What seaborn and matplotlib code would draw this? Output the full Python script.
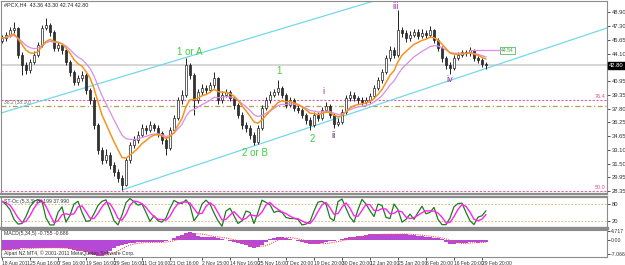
import numpy as np
import pandas as pd
import matplotlib
matplotlib.use("Agg")
import matplotlib.pyplot as plt
from matplotlib import font_manager
import seaborn as sns

# ---------------- data ----------------
title_text = "#PCX,H4  43.36 43.30 42.74 42.80"
first_open = 45.60
closes = [45.92, 46.26, 46.84, 47.07, 43.97, 42.82, 42.24, 43.16, 43.97, 45.11,
          47.07, 47.41, 46.61, 44.77, 45.11, 44.54, 43.16, 42.01, 40.87, 41.33,
          41.67, 39.95, 38.80, 35.93, 33.06, 31.91, 32.49, 31.34, 30.53, 29.85,
          29.04, 31.91, 33.63, 34.21, 34.78, 35.59, 35.36, 35.93, 35.59, 35.01,
          34.21, 33.29, 35.36, 36.73, 38.80, 39.37, 42.82, 41.67, 38.80, 39.72,
          40.18, 39.95, 40.52, 41.33, 38.80, 39.37, 39.72, 39.03, 38.23, 37.08,
          35.93, 35.59, 34.78, 33.98, 35.59, 37.88, 38.80, 39.37, 39.72, 40.18,
          39.37, 38.23, 38.80, 37.88, 37.65, 37.08, 36.50, 35.93, 37.08, 36.73,
          37.65, 38.11, 37.08, 36.05, 36.27, 37.42, 39.03, 39.37, 39.03, 38.80,
          38.57, 38.80, 39.26, 40.18, 41.10, 42.01, 43.62, 44.54, 43.97, 46.84,
          46.49, 45.92, 46.26, 46.61, 46.15, 46.49, 46.26, 46.84, 45.69, 44.77,
          43.62, 42.82, 42.47, 43.62, 43.97, 44.31, 44.20, 44.54, 43.62, 43.39,
          42.93, 42.80]
highs = [46.30, 46.60, 47.20, 47.75, 47.20, 44.30, 43.20, 43.50, 44.40, 45.50,
         47.40, 48.21, 47.60, 46.80, 45.50, 45.40, 44.70, 43.40, 42.30, 41.70,
         42.10, 41.90, 40.20, 39.10, 36.20, 33.40, 33.20, 32.80, 31.70, 30.90,
         30.20, 32.30, 34.00, 34.70, 35.20, 36.10, 35.90, 36.40, 36.20, 35.90,
         35.30, 34.50, 35.70, 37.10, 39.10, 39.90, 43.62, 43.10, 41.90, 40.10,
         40.60, 40.50, 40.90, 42.01, 41.50, 39.80, 40.10, 40.00, 39.30, 38.50,
         37.40, 36.30, 35.90, 35.10, 35.90, 38.20, 39.20, 39.80, 40.10, 41.10,
         40.40, 39.60, 39.20, 39.00, 38.20, 37.90, 37.30, 36.80, 37.40, 37.40,
         38.00, 38.57, 38.30, 37.30, 36.70, 37.80, 39.40, 39.80, 39.70, 39.30,
         39.10, 39.20, 39.60, 40.50, 41.50, 42.40, 44.00, 45.00, 44.90, 49.13,
         47.20, 46.80, 46.70, 47.00, 46.90, 46.90, 46.80, 47.30, 47.00, 45.90,
         45.00, 43.90, 43.20, 44.00, 44.30, 44.60, 44.60, 44.88, 44.70, 43.80,
         43.60, 43.20]
lows = [45.30, 45.60, 46.00, 46.50, 43.60, 41.70, 41.80, 41.90, 42.90, 43.70,
        44.90, 46.80, 46.20, 44.40, 44.40, 44.10, 42.80, 41.60, 40.50, 40.50,
        41.00, 39.50, 38.40, 35.50, 32.60, 31.50, 31.60, 30.90, 30.10, 29.40,
        28.47, 28.90, 31.60, 33.30, 33.90, 34.50, 34.90, 35.10, 35.20, 34.60,
        33.80, 32.49, 33.10, 35.10, 36.50, 38.40, 39.10, 41.20, 37.08, 38.50,
        39.40, 39.50, 39.70, 40.20, 38.40, 38.50, 39.10, 38.70, 37.80, 36.70,
        35.50, 35.10, 34.30, 33.63, 33.80, 35.40, 37.60, 38.50, 39.10, 39.40,
        39.00, 37.90, 38.00, 37.50, 37.30, 36.70, 36.10, 35.36, 35.70, 36.40,
        36.50, 37.40, 36.70, 35.59, 35.80, 36.00, 37.20, 38.70, 38.70, 38.40,
        38.20, 38.30, 38.50, 39.00, 39.90, 40.80, 41.80, 43.30, 43.60, 43.70,
        46.00, 45.50, 45.60, 46.00, 45.80, 45.90, 45.90, 46.00, 45.30, 44.40,
        43.20, 42.40, 41.79, 42.20, 43.40, 43.70, 43.80, 43.90, 43.30, 43.00,
        42.60, 42.40]
stoch_k = [90, 78, 60, 25, 8, 10, 35, 70, 90, 95,
           90, 30, 5, 5, 50, 70, 15, 40, 80, 90,
           50, 18, 20, 45, 75, 90, 95, 60, 20, 5,
           40, 85, 100, 88, 76, 80, 50, 18, 38, 20,
           15, 30, 65, 93, 85, 82, 95, 75, 20, 40,
           80, 94, 80, 48, 20, 0, 55, 65, 38, 10,
           20, 55, 50, 10, 50, 94, 86, 78, 50, 55,
           50, 32, 28, 28, 25, 5, 8, 17, 55, 87,
           90, 80, 30, 20, 89, 98, 65, 33, 15, 60,
           97, 80, 56, 35, 80, 75, 32, 28, 80, 60,
           15, 25, 44, 25, 50, 72, 45, 50, 68, 25,
           6, 6, 30, 70, 82, 83, 50, 20, 6, 33,
           38, 56]
macd_main = [-5.0, -4.9, -4.8, -4.6, -4.4, -4.2, -4.0, -4.0, -4.0, -3.9,
             -3.8, -3.8, -3.9, -4.0, -4.0, -4.1, -4.2, -4.5, -4.9, -5.3,
             -5.7, -6.2, -6.9, -7.6, -8.2, -8.0, -7.0, -5.5, -4.0, -3.0,
             -2.3, -1.8, -1.5, -1.3, -1.2, -1.2, -1.2, -1.2, -1.2, -1.1,
             -1.0, -0.6, 0.0, 1.0, 1.8, 2.5, 3.3, 4.0, 3.5, 2.2,
             1.7, 1.7, 1.6, 1.5, 1.0, 0.6, 0.2, -0.3, -0.8, -1.5,
             -2.1, -2.7, -3.3, -3.8, -3.3, -2.5, -1.2, 0.5, 1.2, 1.7,
             1.5, 1.1, 0.6, 0.1, -0.4, -0.9, -1.4, -1.9, -2.2, -2.0,
             -1.6, -1.2, -0.7, -0.3, 0.0, 0.4, 0.8, 1.3, 1.7, 2.0,
             2.2, 2.5, 2.8, 3.0, 3.0, 2.8, 2.8, 2.9, 3.0, 3.1,
             3.0, 2.8, 2.5, 2.4, 2.2, 2.0, 1.7, 1.3, 1.1, 0.9,
             0.3, -1.0, -2.2, -2.0, -1.7, -1.5, -1.3, -1.2, -1.2, -1.3,
             -1.2, -0.8]
date_ticks = [0, 7, 14, 21, 28, 35, 42, 50, 57, 64, 71, 78, 85, 92, 99, 106, 113, 120]
date_labels = ["18 Aug 2011", "25 Aug 16:00", "7 Sep 16:00", "19 Sep 16:00",
               "29 Sep 16:00", "11 Oct 16:00", "21 Oct 16:00", "2 Nov 15:00",
               "14 Nov 16:00", "25 Nov 16:00", "7 Dec 20:00", "19 Dec 20:00",
               "30 Dec 20:00", "12 Jan 20:00", "25 Jan 20:00", "6 Feb 20:00",
               "16 Feb 20:00", "29 Feb 20:00"]
price_ticks = [48.90, 47.30, 45.65, 44.10, 40.95, 39.35, 37.80, 36.25,
               34.65, 33.10, 31.50, 29.95, 28.35]
price_tick_labels = ["48.90", "47.30", "45.65", "44.10", "40.95", "39.35", "37.80",
                     "36.25", "34.65", "33.10", "31.50", "29.95", "28.35"]
last_price = 42.80
fib_levels = [38.85, 28.40]
fib_labels = ["76.4", "50.0"]
olive_level = 38.10
olive_label = "38.2 (38.10)"
marker_level = 44.54
marker_x = [117, 124.5]
upper_line_x = [-0.25, 95.5]
upper_line_y = [37.31, 50.52]
lower_line_x = [30, 151.25]
lower_line_y = [28.47, 47.07]
wave_text = ["1 or A", "1", "2 or B", "2", "i", "ii", "iii", "iv"]
wave_x = [47, 69.3, 63.3, 77.5, 80.3, 83, 98.3, 112]
wave_y = [44.31, 42.13, 32.72, 34.32, 39.83, 34.67, 49.59, 41.10]
wave_kind = ["green", "green", "green", "green", "purple", "dark", "purple", "purple"]
stoch_levels = [80, 20]
macd_ticks = [4.717, 0.0, -7.066]
macd_tick_labels = ["4.717", "0.00", "-7.066"]
stoch_text = "ST-Oc (5,3,3) 28.199 37.990"
macd_text = "MACD(5,34,5) -0.755 -0.686"
copyright_text = "Alpari NZ MT4, \u00a9 2001-2011 MetaQuotes Software Corp."

# ---------------- derived frames ----------------
n = len(closes)
idx = np.arange(n)
opens = [first_open] + closes[:-1]
df = pd.DataFrame({"bar": idx, "open": opens, "close": closes, "high": highs, "low": lows})
df["ma_fast"] = df["close"].ewm(span=8, adjust=False).mean()
df["ma_slow"] = df["close"].ewm(span=14, adjust=False).mean()
df["k"] = stoch_k
df["d"] = df["k"].rolling(3, min_periods=1).mean()
df["macd"] = macd_main
df["signal"] = df["macd"].rolling(5, min_periods=1).mean()

# ---------------- style ----------------
sns.set_theme(style="white")
names = {f.name for f in font_manager.fontManager.ttflist}
small_font = "Liberation Sans Narrow" if "Liberation Sans Narrow" in names else "Liberation Sans"
plt.rcParams["font.family"] = ["Liberation Sans", "DejaVu Sans"]
plt.rcParams["axes.linewidth"] = 0.8

W, H = 625, 265
fig = plt.figure(figsize=(W / 100, H / 100), dpi=100)
fig.patch.set_facecolor("white")

def frac(px_left, px_top, px_right, px_bottom):
    return [px_left / W, 1 - px_bottom / H, (px_right - px_left) / W, (px_bottom - px_top) / H]

ax = fig.add_axes(frac(1, 1, 607, 194))
axs = fig.add_axes(frac(1, 197, 607, 228), sharex=ax)
axm = fig.add_axes(frac(1, 230, 607, 257), sharex=ax)

XMIN, XMAX = -0.25, 151.25
GRAY = "#8c8c8c"
GREEN = "#3ccf3c"
PURPLE = "#a02aa8"
CYAN = "#72d8ea"

for a in (ax, axs, axm):
    a.set_facecolor("white")
    for s in a.spines.values():
        s.set_color(GRAY)
        s.set_linewidth(0.8)
    a.yaxis.tick_right()
    a.tick_params(axis="y", which="both", length=2, width=0.6, colors="#333333",
                  labelsize=4.2, pad=1.2, right=True, left=False)
    a.tick_params(axis="x", length=0, labelbottom=False)
ax.spines["bottom"].set_linewidth(1.6)
axs.spines["bottom"].set_linewidth(2.4)
axs.spines["top"].set_linewidth(1.6)

# ---------------- main price panel ----------------
ax.set_xlim(XMIN, XMAX)
ax.set_ylim(28.01, 50.17)

ax.axhline(last_price, color="#d0d0d0", lw=1.2, zorder=1)
for lvl, lab in zip(fib_levels, fib_labels):
    ax.axhline(lvl, color="#e060a0", lw=0.8, ls=(0, (2, 1.5)), zorder=1)
    ax.text(XMAX - 0.3, lvl + 0.1, lab, color="#e050a0", fontsize=4.0,
            family=small_font, ha="right", va="bottom")
ax.axhline(olive_level, color="#b0a050", lw=0.9, ls=(0, (4, 2, 1, 2)), zorder=1)
ax.text(0.5, olive_level + 0.15, olive_label, color="#707070", fontsize=3.6,
        family=small_font, ha="left", va="bottom")

sns.lineplot(x=upper_line_x, y=upper_line_y, ax=ax, color=CYAN, lw=0.9, zorder=2)
sns.lineplot(x=lower_line_x, y=lower_line_y, ax=ax, color=CYAN, lw=0.9, zorder=2)

bull = df["close"] >= df["open"]
ax.vlines(df["bar"], df["low"], df["high"], color="#222222", lw=0.7, zorder=3)
body_bottom = np.minimum(df["open"], df["close"])
body_h = np.maximum(np.abs(df["close"] - df["open"]), 0.06)
ax.bar(df["bar"][bull], body_h[bull], bottom=body_bottom[bull], width=0.55,
       color="white", edgecolor="#222222", linewidth=0.5, zorder=4)
ax.bar(df["bar"][~bull], body_h[~bull], bottom=body_bottom[~bull], width=0.55,
       color="#333333", edgecolor="#222222", linewidth=0.5, zorder=4)

sns.lineplot(data=df, x="bar", y="ma_slow", ax=ax, color="#d98ee6", lw=0.9, zorder=5)
sns.lineplot(data=df, x="bar", y="ma_fast", ax=ax, color="#f7931e", lw=1.1, zorder=6)

ax.plot(marker_x, [marker_level, marker_level], color="#e48ce8", lw=0.9, zorder=5)
ax.text(marker_x[1] + 0.3, marker_level, f"{marker_level:.2f}", color="#3caa3c",
        fontsize=3.6, family=small_font, ha="left", va="center",
        bbox=dict(boxstyle="square,pad=0.2", fc="white", ec="#3caa3c", lw=0.5))

colmap = {"green": GREEN, "purple": PURPLE, "dark": "#4a2050"}
for t, x, y, k in zip(wave_text, wave_x, wave_y, wave_kind):
    ax.text(x, y, t, color=colmap[k], fontsize=7.0 if k == "green" else 6.5,
            ha="center", va="center", zorder=7)

ax.text(0.5, 49.75, title_text, color="#222222", fontsize=3.9, family=small_font,
        ha="left", va="center")

ax.set_yticks(price_ticks)
ax.set_yticklabels(price_tick_labels, family=small_font)
ax.set_ylabel("")
ax.set_xlabel("")
ax.text(XMAX + 0.5, last_price, f"{last_price:.2f}", color="white", fontsize=4.2,
        family=small_font, ha="left", va="center", clip_on=False,
        bbox=dict(boxstyle="square,pad=0.15", fc="black", ec="black"))

# ---------------- stochastic ----------------
axs.set_ylim(-6.1, 105.4)
for lv in stoch_levels:
    axs.axhline(lv, color="#c8b070", lw=0.6, ls=(0, (2, 2)))
sns.lineplot(data=df, x="bar", y="k", ax=axs, color="#1f7a1f", lw=0.9)
sns.lineplot(data=df, x="bar", y="d", ax=axs, color="#ff22ee", lw=1.0)
axs.set_yticks(stoch_levels)
axs.set_yticklabels([str(v) for v in stoch_levels], family=small_font)
axs.text(0.5, 97, stoch_text, color="#333333", fontsize=3.7, family=small_font,
         ha="left", va="top")
axs.set_ylabel("")
axs.set_xlabel("")

# ---------------- MACD ----------------
axm.set_ylim(-8.5, 5.0)
axm.bar(df["bar"], df["macd"], width=0.9, color="#b548d6", edgecolor="none")
sns.lineplot(data=df, x="bar", y="signal", ax=axm, color="#ff5050", lw=0.8,
             linestyle=(0, (1, 1)))
axm.set_yticks(macd_ticks)
axm.set_yticklabels(macd_tick_labels, family=small_font)
axm.tick_params(axis="y", labelsize=3.8, pad=0.8)
axm.text(0.5, 4.6, macd_text, color="#333333", fontsize=3.7, family=small_font,
         ha="left", va="top")
axm.text(0.5, -6.6, copyright_text, color="#333333", fontsize=3.7, family=small_font,
         ha="left", va="center")
axm.set_ylabel("")
axm.set_xlabel("")

axm.set_xticks(date_ticks)
axm.tick_params(axis="x", length=2, width=0.6, colors="#333333", direction="out",
                bottom=True, labelbottom=True, labelsize=3.6, pad=0.8)
axm.set_xticklabels(date_labels, ha="left", family=small_font)
axm.set_xlim(XMIN, XMAX)

fig.savefig("out.png", dpi=100, facecolor="white")
